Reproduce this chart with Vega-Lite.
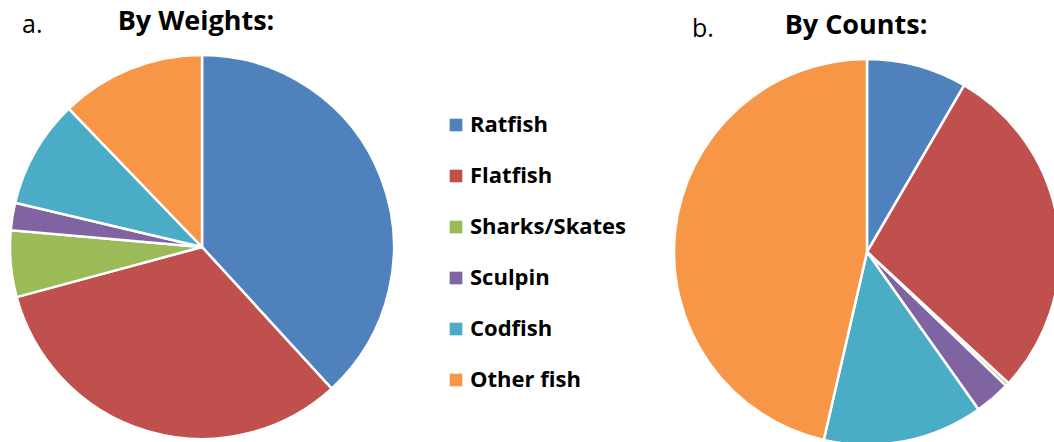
{
  "$schema": "https://vega.github.io/schema/vega-lite/v6.json",
  "padding": {"top": 8, "left": 0, "right": 0, "bottom": 0},
  "background": "white",
  "spacing": 265,
  "data": {
    "values": [
      {"group": "Weights", "species": "Ratfish", "ord": 1, "value": 38.2},
      {"group": "Weights", "species": "Flatfish", "ord": 2, "value": 32.6},
      {"group": "Weights", "species": "Sharks/Skates", "ord": 3, "value": 5.6},
      {"group": "Weights", "species": "Sculpin", "ord": 4, "value": 2.3},
      {"group": "Weights", "species": "Codfish", "ord": 5, "value": 9.1},
      {"group": "Weights", "species": "Other fish", "ord": 6, "value": 12.2},
      {"group": "Counts", "species": "Ratfish", "ord": 1, "value": 8.4},
      {"group": "Counts", "species": "Flatfish", "ord": 2, "value": 28.5},
      {"group": "Counts", "species": "Sharks/Skates", "ord": 3, "value": 0.3},
      {"group": "Counts", "species": "Sculpin", "ord": 4, "value": 3.0},
      {"group": "Counts", "species": "Codfish", "ord": 5, "value": 13.4},
      {"group": "Counts", "species": "Other fish", "ord": 6, "value": 46.4}
    ]
  },
  "hconcat": [
    {
      "title": {"text": "a.", "anchor": "start", "dx": 22, "dy": 34, "fontWeight": "normal", "fontSize": 25, "font": "Open Sans", "color": "#000000"},
      "vconcat": [
        {
          "title": {"text": "By Weights:", "anchor": "middle", "dx": -6, "offset": 14, "fontWeight": "bold", "fontSize": 27, "font": "Open Sans", "color": "#000000"},
          "width": 404,
          "height": 384,
          "transform": [{"filter": "datum.group === 'Weights'"}],
          "mark": {"type": "arc", "radius": 192, "stroke": "white", "strokeWidth": 2.5},
          "encoding": {
            "theta": {"field": "value", "type": "quantitative", "stack": true},
            "order": {"field": "ord", "type": "quantitative"},
            "color": {
              "field": "species", "type": "nominal",
              "scale": {"domain": ["Ratfish", "Flatfish", "Sharks/Skates", "Sculpin", "Codfish", "Other fish"], "range": ["#4F81BD", "#C0504D", "#9BBB59", "#8064A2", "#4BACC6", "#F79646"]},
              "legend": {"orient": "none", "legendX": 445, "legendY": 59}
            }
          }
        }
      ]
    },
    {
      "title": {"text": "b.", "anchor": "start", "dx": 23, "dy": 34, "fontWeight": "normal", "fontSize": 25, "font": "Open Sans", "color": "#000000"},
      "vconcat": [
        {
          "title": {"text": "By Counts:", "anchor": "middle", "dx": -11, "offset": 14, "fontWeight": "bold", "fontSize": 27, "font": "Open Sans", "color": "#000000"},
          "width": 394,
          "height": 394,
          "transform": [{"filter": "datum.group === 'Counts'"}],
          "mark": {"type": "arc", "radius": 193, "stroke": "white", "strokeWidth": 2.5},
          "encoding": {
            "theta": {"field": "value", "type": "quantitative", "stack": true},
            "order": {"field": "ord", "type": "quantitative"},
            "color": {
              "field": "species", "type": "nominal",
              "scale": {"domain": ["Ratfish", "Flatfish", "Sharks/Skates", "Sculpin", "Codfish", "Other fish"], "range": ["#4F81BD", "#C0504D", "#9BBB59", "#8064A2", "#4BACC6", "#F79646"]},
              "legend": {"orient": "none", "legendX": 445, "legendY": 59}
            }
          }
        }
      ]
    }
  ],
  "config": {
    "view": {"stroke": null},
    "legend": {
      "title": null,
      "padding": 0,
      "symbolType": "square",
      "symbolSize": 160,
      "symbolStrokeWidth": 0,
      "labelFont": "Open Sans",
      "labelFontSize": 22,
      "labelFontWeight": "bold",
      "labelColor": "#000000",
      "labelOffset": 3,
      "rowPadding": 29
    }
  }
}
